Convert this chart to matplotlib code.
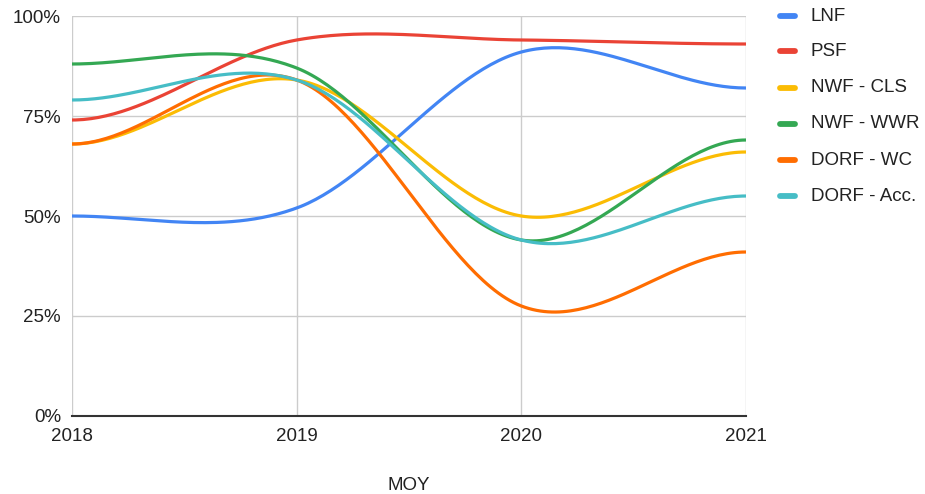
import numpy as np
import matplotlib
matplotlib.use("Agg")
import matplotlib.pyplot as plt
from matplotlib.lines import Line2D

plt.rcParams['font.family'] = ['Liberation Sans', 'DejaVu Sans']

years = [2018, 2019, 2020, 2021]
series_names = ["LNF", "PSF", "NWF - CLS", "NWF - WWR", "DORF - WC", "DORF - Acc."]
lnf = [50, 52, 91, 82]
psf = [74, 94, 94, 93]
nwf_cls = [68, 84, 50, 66]
nwf_wwr = [88, 87, 44, 69]
dorf_wc = [68, 84, 27.5, 41]
dorf_acc = [79, 84, 44, 55]
series_values = [lnf, psf, nwf_cls, nwf_wwr, dorf_wc, dorf_acc]
colors = ["#4285F4", "#EA4335", "#FBBC04", "#34A853", "#FF6D01", "#46BDC6"]
y_ticks = [0, 25, 50, 75, 100]

FS = 13.5
TXT = "#222222"


def smooth(xs, ys, n=60):
    """Piecewise cubic Hermite curve: flat ends, centred-difference tangents inside."""
    xs = np.asarray(xs, float)
    ys = np.asarray(ys, float)
    k = len(xs)
    m = np.zeros(k)
    for i in range(1, k - 1):
        m[i] = (ys[i + 1] - ys[i - 1]) / (xs[i + 1] - xs[i - 1])
    out_x, out_y = [], []
    for i in range(k - 1):
        h = xs[i + 1] - xs[i]
        t = np.linspace(0, 1, n)
        h00 = 2 * t**3 - 3 * t**2 + 1
        h10 = t**3 - 2 * t**2 + t
        h01 = -2 * t**3 + 3 * t**2
        h11 = t**3 - t**2
        yy = h00 * ys[i] + h10 * h * m[i] + h01 * ys[i + 1] + h11 * h * m[i + 1]
        out_x.append(xs[i] + t * h)
        out_y.append(yy)
    return np.concatenate(out_x), np.concatenate(out_y)


W, H = 925, 494
fig = plt.figure(figsize=(W / 100, H / 100), dpi=100)
L, R, T, B = 72, 746, 16, 416
ax = fig.add_axes([L / W, 1 - B / H, (R - L) / W, (B - T) / H])

for vals, c in zip(series_values, colors):
    sx, sy = smooth(years, vals)
    ax.plot(sx, sy, color=c, lw=2.3, solid_capstyle='round', zorder=3)

ax.set_xlim(years[0], years[-1])
ax.set_ylim(0, 100)
ax.set_xticks(years)
ax.set_xticklabels([str(y) for y in years])
ax.set_yticks(y_ticks)
ax.set_yticklabels([f"{v}%" for v in y_ticks])
ax.grid(True, color="#cccccc", lw=1.0, zorder=0)
ax.tick_params(length=0, labelsize=FS, colors=TXT)
ax.tick_params(axis='x', pad=8.5)
ax.tick_params(axis='y', pad=8)
for s in ["top", "right", "left"]:
    ax.spines[s].set_visible(False)
ax.spines["bottom"].set_color("#333333")
ax.spines["bottom"].set_linewidth(1.5)
ax.spines["bottom"].set_zorder(4)
ax.set_xlabel("MOY", fontsize=FS, color=TXT, va='center')
ax.xaxis.set_label_coords(0.5, -(485 - B) / (B - T))

# legend on the right
leg_y = [16.5, 51.5, 88, 124, 160.5, 196.5]
for name, c, yy in zip(series_names, colors, leg_y):
    fy = 1 - yy / H
    fig.add_artist(Line2D([780 / W, 795 / W], [fy, fy], color=c, lw=4.2,
                          solid_capstyle='round', transform=fig.transFigure))
    fig.text(811 / W, fy, name, fontsize=FS, color=TXT, va='center', ha='left')

fig.savefig("out.png", dpi=100)
